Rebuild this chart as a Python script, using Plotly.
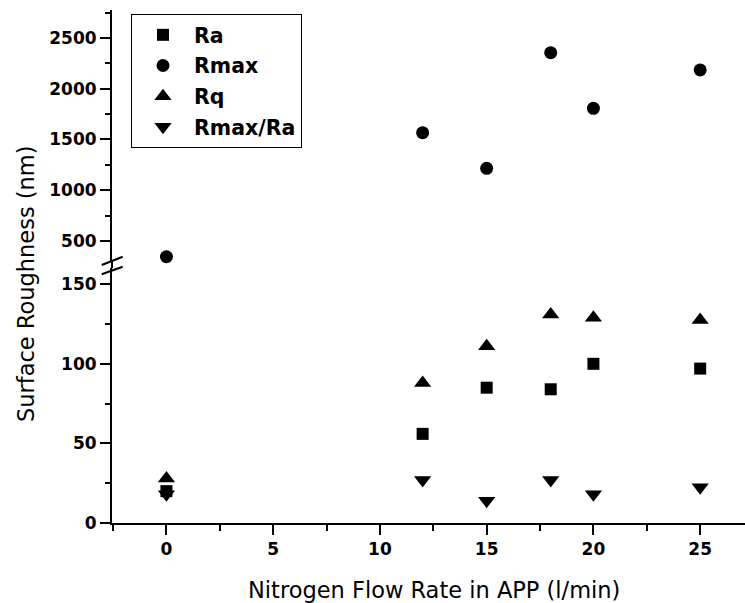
import plotly.graph_objects as go

# ---- data ----
flow_rate = [0, 12, 15, 18, 20, 25]
ra = [20, 56, 85, 84, 100, 97]
rmax = [345, 1567, 1216, 2355, 1807, 2185]
rq = [28, 88, 111, 131, 129, 127.5]
rmax_ra = [18, 27, 14, 27, 18, 22.5]

x_ticks = [0, 5, 10, 15, 20, 25]
low_ticks = [0, 50, 100, 150]
up_ticks = [500, 1000, 1500, 2000, 2500]

FONT = "DejaVu Sans"
W, H = 745, 603
ML, MR, MT, MB = 112, 0, 10, 80
PW, PH = W - ML - MR, H - MT - MB


def px(xp):
    return (xp - ML) / PW


def py(yp):
    return (H - MB - yp) / PH


low_dom = [0, py(268.3)]
up_dom = [py(261.3), 1]

fig = go.Figure()
series = [
    ("Ra", ra, "y", "square", 12),
    ("Rmax", rmax, "y2", "circle", 13),
    ("Rq", rq, "y", "triangle-up", 15),
    ("Rmax/Ra", rmax_ra, "y", "triangle-down", 15),
]
for i, (name, vals, yax, sym, size) in enumerate(series):
    fig.add_trace(go.Scatter(x=flow_rate, y=vals, name=name, yaxis=yax, mode="markers",
                             marker=dict(symbol=sym, size=size, color="black"),
                             legendgroup=f"g{i}", cliponaxis=False))

tickfont = dict(family=FONT, size=17, color="black", weight="bold")
axis_common = dict(showline=True, linecolor="black", linewidth=2, ticks="outside",
                   tickcolor="black", tickwidth=2, showgrid=False, zeroline=False,
                   tickfont=tickfont)

fig.update_layout(
    width=W, height=H,
    margin=dict(l=ML, r=MR, t=MT, b=MB, pad=0),
    paper_bgcolor="white", plot_bgcolor="white",
    font=dict(family=FONT, color="black"),
    xaxis=dict(range=[-2.55, 27.1], tickvals=x_ticks, ticklen=10,
               minor=dict(dtick=2.5, tick0=0, ticklen=6, tickwidth=2, tickcolor="black", ticks="outside"),
               **axis_common),
    yaxis=dict(domain=low_dom, range=[0, 160], tickvals=low_ticks, ticklen=10,
               minor=dict(dtick=25, tick0=0, ticklen=5, tickwidth=2, tickcolor="black", ticks="outside"),
               **axis_common),
    yaxis2=dict(domain=up_dom, range=[300, 2775], tickvals=up_ticks, ticklen=10,
                anchor="x",
                minor=dict(dtick=250, tick0=0, ticklen=5, tickwidth=2, tickcolor="black", ticks="outside"),
                **axis_common),
    legend=dict(x=px(131), y=py(14), xanchor="left", yanchor="top",
                bordercolor="black", borderwidth=1, bgcolor="white",
                font=dict(family=FONT, size=20.5, color="black", weight="bold"),
                itemwidth=52, tracegroupgap=1),
    showlegend=True,
)

# axis break: fill the gap in the axis line and draw the "//" marks
fig.add_shape(type="line", xref="paper", yref="paper", x0=0, x1=0,
              y0=low_dom[1], y1=up_dom[0], line=dict(color="black", width=2))
for (y_a, y_b) in [(265.0, 256.7), (274.3, 266.7)]:
    fig.add_shape(type="line", xref="paper", yref="paper",
                  x0=px(101.7), y0=py(y_a), x1=px(122.7), y1=py(y_b),
                  line=dict(color="black", width=2))

fig.add_annotation(text="Nitrogen Flow Rate in APP (l/min)", xref="paper", yref="paper",
                   x=px(433.5), y=py(590), xanchor="center", yanchor="middle",
                   showarrow=False, font=dict(family=FONT, size=22.5, color="black"))
fig.add_annotation(text="Surface Roughness (nm)", xref="paper", yref="paper",
                   x=px(26), y=py(284), xanchor="center", yanchor="middle", textangle=-90,
                   showarrow=False, font=dict(family=FONT, size=22.5, color="black"))

fig.write_html("out.html")
